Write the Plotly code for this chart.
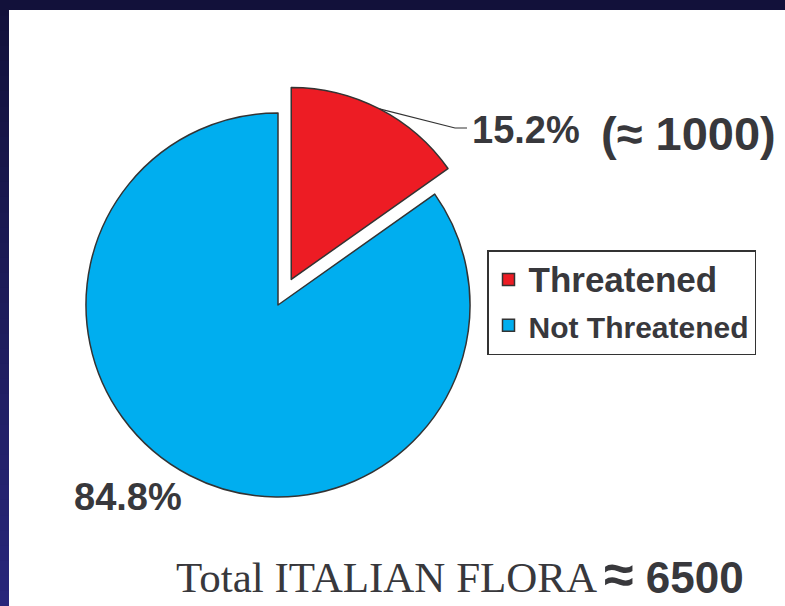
import math
import plotly.graph_objects as go

# ---- data ----
labels = ["Threatened", "Not Threatened"]
percent = [15.2, 84.8]
threatened_count = 1000
total_flora = 6500
colors = ["#ED1C24", "#00AEEF"]

# ---- geometry (pixels) ----
W, H = 785, 606
CX, CY, R = 278, 305, 192
PULL = 0.15
TXT = "#38383c"
SANS = "Liberation Sans, Arial, sans-serif"
SERIF = "Liberation Serif, Times New Roman, serif"

half = R * (1 + PULL)
dom_x = [(CX - half) / W, (CX + half) / W]
dom_y = [(H - CY - half) / H, (H - CY + half) / H]


def px(x):
    return x / W


def py(y):
    return 1 - y / H


legend_labels = [
    "<b><span style='font-size:35px'>%s</span></b>" % labels[0],
    "<b><span style='font-size:30px'>%s</span></b>" % labels[1],
]

fig = go.Figure()
fig.add_trace(go.Pie(
    labels=legend_labels,
    values=percent,
    sort=False,
    direction="clockwise",
    rotation=0,
    pull=[PULL, 0],
    marker=dict(colors=colors, line=dict(color="#333333", width=1.5)),
    textinfo="none",
    hoverinfo="percent",
    domain=dict(x=dom_x, y=dom_y),
))

shapes = []
# dark frame: top band + left gradient strip
top_c = (18, 17, 58)
bot_c = (40, 38, 122)
n = 40
for i in range(n):
    t = i / (n - 1)
    c = tuple(int(round(top_c[k] + (bot_c[k] - top_c[k]) * t)) for k in range(3))
    shapes.append(dict(type="rect", xref="paper", yref="paper",
                       x0=0, x1=px(9), y0=py(H * (i + 1) / n + 1), y1=py(H * i / n),
                       fillcolor="rgb(%d,%d,%d)" % c, line=dict(width=0), layer="above"))
shapes.append(dict(type="rect", xref="paper", yref="paper", x0=0, x1=1, y0=py(10), y1=1,
                   fillcolor="rgb(18,17,58)", line=dict(width=0)))

# leader line from the middle of the pulled slice arc
mid = math.pi * percent[0] / 100.0
rcx = CX + PULL * R * math.sin(mid)
rcy = CY - PULL * R * math.cos(mid)
ax = rcx + R * math.sin(mid)
ay = rcy - R * math.cos(mid)
shapes.append(dict(type="path", xref="paper", yref="paper",
                   path="M%f,%f L%f,%f L%f,%f" % (px(ax), py(ay), px(455), py(128), px(467), py(128)),
                   line=dict(color="#333333", width=1.2)))

annotations = [
    dict(text="<b>%.1f%%</b>" % percent[0], x=px(470), y=py(130), xanchor="left", yanchor="middle",
         font=dict(family=SANS, size=38, color=TXT)),
    dict(text="<b>(≈ %d)</b>" % threatened_count, x=px(599), y=py(133), xanchor="left", yanchor="middle",
         font=dict(family=SANS, size=47, color=TXT)),
    dict(text="<b>%.1f%%</b>" % percent[1], x=px(72), y=py(497), xanchor="left", yanchor="middle",
         font=dict(family=SANS, size=38, color=TXT)),
    dict(text="Total ITALIAN FLORA", x=px(174), y=py(577), xanchor="left", yanchor="middle",
         font=dict(family=SERIF, size=43, color=TXT)),
    dict(text="<b><span style='font-size:54px'>≈</span> %d</b>" % total_flora, x=px(602), y=py(574),
         xanchor="left", yanchor="middle",
         font=dict(family=SANS, size=44, color=TXT)),
]
for a in annotations:
    a.update(xref="paper", yref="paper", showarrow=False)

fig.update_layout(
    width=W, height=H,
    margin=dict(l=0, r=0, t=0, b=0),
    paper_bgcolor="white",
    plot_bgcolor="white",
    shapes=shapes,
    annotations=annotations,
    showlegend=True,
    legend=dict(x=px(487), y=py(250), xanchor="left", yanchor="top",
                bordercolor="#333333", borderwidth=1.5, bgcolor="white",
                font=dict(family=SANS, size=33, color=TXT),
                tracegroupgap=0, itemclick=False, itemdoubleclick=False),
)

fig.write_html(
    "out.html",
    config={"displayModeBar": False},
    post_script=["document.body.style.margin='0';document.body.style.overflow='hidden';"],
)
